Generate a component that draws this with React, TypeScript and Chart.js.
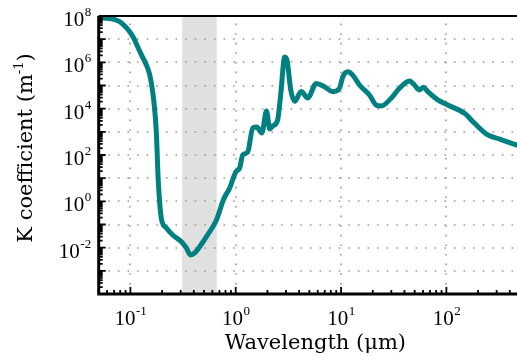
import React, { useEffect, useRef } from "react";
import { Chart, registerables } from "chart.js";

Chart.register(...registerables);

// Wavelength (µm) and absorption coefficient K (m^-1)
const wavelengths = [
  0.05, 0.0636, 0.079, 0.0883, 0.0985, 0.1074, 0.1172, 0.128, 0.1418, 0.1509,
  0.158, 0.1664, 0.1765, 0.1828, 0.1897, 0.198, 0.2197, 0.252, 0.305, 0.34,
  0.3715, 0.408, 0.455, 0.527, 0.656, 0.769, 0.877, 1.0, 1.09, 1.165,
  1.3, 1.45, 1.58, 1.77, 1.96, 2.1, 2.245, 2.5, 2.67, 2.92,
  3.08, 3.33, 3.63, 4.19, 4.83, 5.81, 6.95, 8.34, 9.65, 10.4,
  11.6, 12.9, 14.96, 18.6, 21.5, 24.0, 29.9, 35.9, 44.6, 49.8,
  55.6, 60.7, 66.6, 82.8, 103, 148.6, 185, 247, 321, 467,
  500,
];
const kCoefficient = [
  8.2e7, 7.8e7, 5.7e7, 3.7e7, 2.1e7, 1.12e7, 4.7e6, 2.0e6, 7.7e5, 3.5e5,
  1.3e5, 2.4e4, 890, 13.7, 0.85, 0.157, 0.071, 0.0353, 0.0182, 0.0097,
  0.00484, 0.0059, 0.011, 0.03, 0.157, 1.26, 3.8, 18.5, 27.5, 100,
  135, 1466, 1600, 890, 7900, 1330, 1790, 3240, 3.9e4, 1.7e6,
  1.14e6, 6.4e4, 2.1e4, 5.5e4, 2.9e4, 1.22e5, 8.9e4, 5.4e4, 7.6e4, 2.4e5,
  3.9e5, 2.8e5, 1.05e5, 3.9e4, 1.44e4, 1.3e4, 2.8e4, 7.6e4, 1.57e5, 1.05e5,
  6.4e4, 8.4e4, 5.4e4, 2.4e4, 1.44e4, 6300, 2340, 731, 490, 270,
  250,
];

// Shaded visible band (µm)
const visibleBand = [0.31, 0.66];

// Axis ranges and tick exponents
const xRange = [0.05, 500];
const yRange = [1e-4, 1e8];
const xTickExponents = [-1, 0, 1, 2];
const yTickExponents = [-2, 0, 2, 4, 6, 8];
const xGridExponents = [-1, 0, 1, 2];
const yGridExponents = [-3, -2, -1, 0, 1, 2, 3, 4, 5, 6, 7];

const xTitle = ["Wavelength (μm)"];
const yTitle = ["K coefficient (m", "-1", ")"];

const TICK_FONT = '21px "Liberation Serif"';
const SUP_FONT = '13px "Liberation Serif"';
const TITLE_FONT = '21px "DejaVu Serif"';
const TITLE_SUP_FONT = '13px "DejaVu Serif"';

const decorPlugin = {
  id: "decor",
  beforeDatasetsDraw(chart: any) {
    const { ctx, chartArea: a, scales } = chart;
    const x = scales.x;
    const y = scales.y;
    ctx.save();
    const x0 = x.getPixelForValue(visibleBand[0]);
    const x1 = x.getPixelForValue(visibleBand[1]);
    ctx.fillStyle = "#e0e0e0";
    ctx.fillRect(x0, a.top, x1 - x0, a.bottom - a.top);

    ctx.strokeStyle = "#999999";
    ctx.lineWidth = 1.6;
    ctx.setLineDash([1.6, 8]);
    ctx.beginPath();
    for (const e of yGridExponents) {
      const py = Math.round(y.getPixelForValue(Math.pow(10, e)));
      ctx.moveTo(a.left, py);
      ctx.lineTo(a.right, py);
    }
    for (const e of xGridExponents) {
      const px = Math.round(x.getPixelForValue(Math.pow(10, e)));
      ctx.moveTo(px, a.bottom);
      ctx.lineTo(px, a.top);
    }
    ctx.stroke();
    ctx.restore();
  },
  afterDraw(chart: any) {
    const { ctx, chartArea: a, scales } = chart;
    const x = scales.x;
    const y = scales.y;
    ctx.save();
    ctx.strokeStyle = "#000";
    ctx.fillStyle = "#000";

    // tick marks, y axis (inward)
    ctx.lineWidth = 1.8;
    ctx.beginPath();
    for (let e = -4; e <= 8; e++) {
      for (let m = 1; m <= 9; m++) {
        const v = m * Math.pow(10, e);
        if (v < yRange[0] * 0.999 || v > yRange[1] * 1.001) continue;
        const py = y.getPixelForValue(v);
        const len = m === 1 ? 7 : 4;
        ctx.moveTo(a.left, py);
        ctx.lineTo(a.left + len, py);
      }
    }
    // tick marks, x axis (inward)
    for (let e = -2; e <= 2; e++) {
      for (let m = 1; m <= 9; m++) {
        const v = m * Math.pow(10, e);
        if (v < xRange[0] * 0.999 || v > xRange[1] * 1.001) continue;
        const px = x.getPixelForValue(v);
        const len = m === 1 ? 7 : 4;
        ctx.moveTo(px, a.bottom);
        ctx.lineTo(px, a.bottom - len);
      }
    }
    ctx.stroke();

    // spines
    ctx.lineWidth = 3;
    ctx.beginPath();
    ctx.moveTo(a.left, a.top);
    ctx.lineTo(a.left, a.bottom);
    ctx.lineTo(a.right, a.bottom);
    ctx.stroke();
    ctx.lineWidth = 2;
    ctx.beginPath();
    ctx.moveTo(a.left, a.top);
    ctx.lineTo(a.right, a.top);
    ctx.stroke();

    // x tick labels
    ctx.textBaseline = "alphabetic";
    ctx.textAlign = "left";
    for (const e of xTickExponents) {
      const px = x.getPixelForValue(Math.pow(10, e));
      ctx.font = TICK_FONT;
      const wBase = ctx.measureText("10").width;
      ctx.font = SUP_FONT;
      const wExp = ctx.measureText(String(e)).width;
      const start = px - (wBase + wExp) / 2;
      const base = a.bottom + 31;
      ctx.font = TICK_FONT;
      ctx.fillText("10", start, base);
      ctx.font = SUP_FONT;
      ctx.fillText(String(e), start + wBase + 0.5, base - 10);
    }

    // y tick labels
    for (const e of yTickExponents) {
      const py = y.getPixelForValue(Math.pow(10, e));
      ctx.font = TICK_FONT;
      const wBase = ctx.measureText("10").width;
      ctx.font = SUP_FONT;
      const wExp = ctx.measureText(String(e)).width;
      const right = a.left - 8;
      const start = right - wBase - wExp;
      ctx.font = TICK_FONT;
      ctx.fillText("10", start, py + 10);
      ctx.font = SUP_FONT;
      ctx.fillText(String(e), start + wBase + 0.5, py);
    }

    // x title
    ctx.font = TITLE_FONT;
    ctx.textAlign = "center";
    ctx.fillText(xTitle[0], (a.left + a.right) / 2 + 6, a.bottom + 55);

    // y title (rotated)
    ctx.textAlign = "left";
    ctx.translate(32, (a.top + a.bottom) / 2 - 7);
    ctx.rotate(-Math.PI / 2);
    ctx.font = TITLE_FONT;
    const w1 = ctx.measureText(yTitle[0]).width;
    const w3 = ctx.measureText(yTitle[2]).width;
    ctx.font = TITLE_SUP_FONT;
    const w2 = ctx.measureText(yTitle[1]).width;
    let cx = -(w1 + w2 + w3) / 2;
    ctx.font = TITLE_FONT;
    ctx.fillText(yTitle[0], cx, 0);
    cx += w1;
    ctx.font = TITLE_SUP_FONT;
    ctx.fillText(yTitle[1], cx, -9);
    cx += w2;
    ctx.font = TITLE_FONT;
    ctx.fillText(yTitle[2], cx, 0);

    ctx.restore();
  },
};

export default function App() {
  const ref = useRef<HTMLCanvasElement>(null);
  useEffect(() => {
    if (!ref.current) return;
    const points = wavelengths.map((w, i) => ({ x: w, y: kCoefficient[i] }));
    const chart = new Chart(ref.current, {
      type: "line",
      data: {
        datasets: [
          {
            data: points,
            borderColor: "#008080",
            borderWidth: 5,
            pointRadius: 0,
            fill: false,
            cubicInterpolationMode: "monotone",
            borderJoinStyle: "round",
            borderCapStyle: "round",
          } as any,
        ],
      },
      options: {
        responsive: false,
        animation: false,
        devicePixelRatio: 1,
        layout: { padding: { left: 98.7, top: 16, right: 0, bottom: 62 } },
        plugins: {
          legend: { display: false },
          tooltip: { enabled: false },
        },
        scales: {
          x: { type: "logarithmic", min: xRange[0], max: xRange[1], display: false },
          y: { type: "logarithmic", min: yRange[0], max: yRange[1], display: false },
        },
      },
      plugins: [decorPlugin],
    });
    return () => chart.destroy();
  }, []);
  return (
    <div
      style={{
        position: "fixed",
        left: 0,
        top: 0,
        width: 517,
        height: 356,
        overflow: "hidden",
        background: "#fff",
      }}
    >
      <canvas ref={ref} width={520} height={356} style={{ display: "block", width: 520, height: 356 }} />
    </div>
  );
}
